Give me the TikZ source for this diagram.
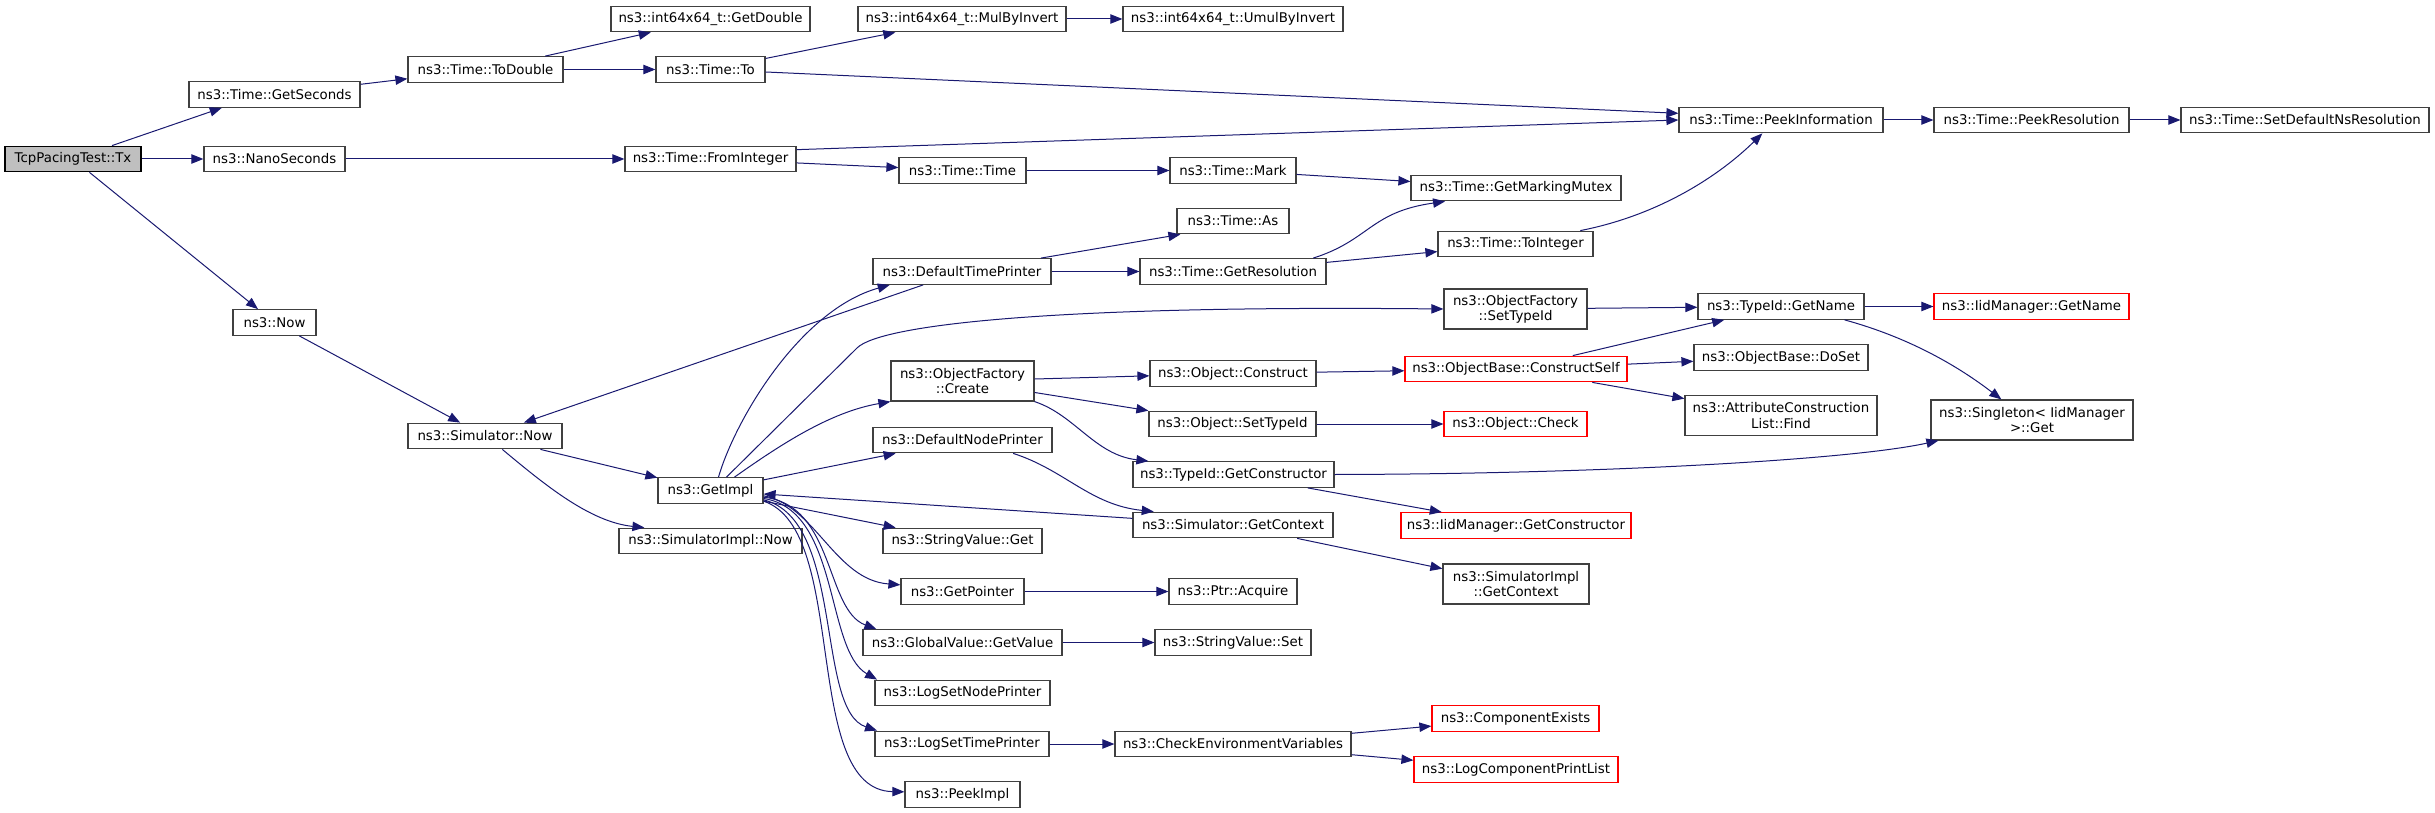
\documentclass[tikz,border=0pt]{standalone}
\usepackage{fontspec}
\setmainfont{DejaVu Sans}
\usetikzlibrary{arrows.meta}
\definecolor{edgec}{HTML}{191970}
\definecolor{boxc}{HTML}{404040}
\definecolor{rootfill}{HTML}{BFBFBF}
\tikzset{
  nd/.style={draw=boxc, line width=0.9pt, fill=white, inner sep=0pt,
    minimum height=19.2pt, align=center,
    font=\fontsize{10}{11.4}\selectfont},
  tall/.style={minimum height=30pt},
  redb/.style={draw=red},
  rootb/.style={draw=black, fill=rootfill},
  wd/.style={minimum width=#1*0.75pt},
  e/.style={draw=edgec, line width=0.75pt, -{Triangle[length=9pt,width=7pt]}}
}
\begin{document}
\begin{tikzpicture}[x=0.75pt,y=-0.75pt]
\useasboundingbox (0,0) rectangle (2435,813);
% column 1
\node[nd, rootb, wd=136] (tx) at (73,159) {TcpPacingTest::Tx};
% column 2
\node[nd, wd=171] (gs) at (274.5,94.5) {ns3::Time::GetSeconds};
\node[nd, wd=141] (nano) at (274.5,159) {ns3::NanoSeconds};
\node[nd, wd=83] (now) at (274.5,322.5) {ns3::Now};
% column 3
\node[nd, wd=155] (todbl) at (485.5,69.5) {ns3::Time::ToDouble};
\node[nd, wd=154] (simnow) at (485,436) {ns3::Simulator::Now};
% column 4
\node[nd, wd=199] (getdbl) at (710.5,19) {ns3::int64x64\_t::GetDouble};
\node[nd, wd=109] (to) at (710.5,69.5) {ns3::Time::To};
\node[nd, wd=171] (fi) at (710.5,159) {ns3::Time::FromInteger};
\node[nd, wd=105] (gi) at (710.5,490.5) {ns3::GetImpl};
\node[nd, wd=183] (sin) at (710.5,541) {ns3::SimulatorImpl::Now};
% column 5
\node[nd, wd=208] (mbi) at (962,19) {ns3::int64x64\_t::MulByInvert};
\node[nd, wd=127] (tt) at (962.5,170.5) {ns3::Time::Time};
\node[nd, wd=178] (dtp) at (962,271.5) {ns3::DefaultTimePrinter};
\node[nd, tall, wd=143] (ofc) at (962.5,381) {ns3::ObjectFactory\\::Create};
\node[nd, wd=179] (dnp) at (962.5,440) {ns3::DefaultNodePrinter};
\node[nd, wd=159] (svg) at (962.5,541) {ns3::StringValue::Get};
\node[nd, wd=123] (gp) at (962.5,591.5) {ns3::GetPointer};
\node[nd, wd=199] (gv) at (962.5,642.5) {ns3::GlobalValue::GetValue};
\node[nd, wd=175] (lsnp) at (962.5,693) {ns3::LogSetNodePrinter};
\node[nd, wd=174] (lstp) at (962,744) {ns3::LogSetTimePrinter};
\node[nd, wd=115] (pk) at (962.5,794.5) {ns3::PeekImpl};
% column 6
\node[nd, wd=220] (umbi) at (1233,19) {ns3::int64x64\_t::UmulByInvert};
\node[nd, wd=126] (mark) at (1233,170.5) {ns3::Time::Mark};
\node[nd, wd=112] (as) at (1233,221) {ns3::Time::As};
\node[nd, wd=186] (gr) at (1233,271.5) {ns3::Time::GetResolution};
\node[nd, wd=166] (oc) at (1233,373.5) {ns3::Object::Construct};
\node[nd, wd=167] (ost) at (1232.5,424) {ns3::Object::SetTypeId};
\node[nd, wd=201] (tgc) at (1233.5,474.5) {ns3::TypeId::GetConstructor};
\node[nd, wd=200] (sgc) at (1233,525) {ns3::Simulator::GetContext};
\node[nd, wd=128] (pa) at (1233,591.5) {ns3::Ptr::Acquire};
\node[nd, wd=156] (svs) at (1233,642.5) {ns3::StringValue::Set};
\node[nd, wd=236] (cev) at (1233,744) {ns3::CheckEnvironmentVariables};
% column 7
\node[nd, wd=210] (gmm) at (1516,188) {ns3::Time::GetMarkingMutex};
\node[nd, wd=155] (ti) at (1515.5,244) {ns3::Time::ToInteger};
\node[nd, tall, wd=143] (osti) at (1515.5,309) {ns3::ObjectFactory\\::SetTypeId};
\node[nd, redb, wd=222] (cs) at (1516,369) {ns3::ObjectBase::ConstructSelf};
\node[nd, redb, wd=143] (chk) at (1515.5,424) {ns3::Object::Check};
\node[nd, redb, wd=230] (igc) at (1516,525.5) {ns3::IidManager::GetConstructor};
\node[nd, tall, wd=146] (sigc) at (1516,584) {ns3::SimulatorImpl\\::GetContext};
\node[nd, redb, wd=167] (ce) at (1515.5,718.5) {ns3::ComponentExists};
\node[nd, redb, wd=204] (lcpl) at (1516,769.5) {ns3::LogComponentPrintList};
% column 8
\node[nd, wd=204] (pi) at (1781,120) {ns3::Time::PeekInformation};
\node[nd, wd=166] (gn) at (1781,306.5) {ns3::TypeId::GetName};
\node[nd, wd=174] (ds) at (1781,357.5) {ns3::ObjectBase::DoSet};
\node[nd, tall, wd=192] (af) at (1781,415.5) {ns3::AttributeConstruction\\List::Find};
% column 9
\node[nd, wd=195] (pr) at (2031.5,120) {ns3::Time::PeekResolution};
\node[nd, redb, wd=195] (ign) at (2031.5,306.5) {ns3::IidManager::GetName};
\node[nd, tall, wd=202] (sg) at (2032,420) {ns3::Singleton< IidManager\\>::Get};
% column 10
\node[nd, wd=248] (sdns) at (2305,120) {ns3::Time::SetDefaultNsResolution};

% edges
\draw[e] (tx) -- ([xshift=25pt]gs.south west);
\draw[e] (tx) -- (nano);
\draw[e] (tx) -- (now);
\draw[e] (gs) -- (todbl);
\draw[e] (nano) -- (fi);
\draw[e] (todbl) -- (getdbl);
\draw[e] (todbl) -- (to);
\draw[e] (to) -- (mbi);
\draw[e] (mbi) -- (umbi);
\draw[e] (to) -- ([yshift=5pt]pi.west);
\draw[e] ([yshift=7pt]fi.east) -- (pi.west);
\draw[e] (fi) -- (tt);
\draw[e] (tt) -- (mark);
\draw[e] (mark) -- (gmm);
\draw[e] (pi) -- (pr);
\draw[e] (pr) -- (sdns);
\draw[e] (now) -- (simnow);
\draw[e] (dtp) -- (simnow);
\draw[e] (dtp) -- ([xshift=3pt]as.south west);
\draw[e] (dtp) -- (gr);
\draw[e] ([xshift=-10pt]gr.north east) .. controls (1370,240) and (1370,212) .. ([xshift=26pt]gmm.south west);
\draw[e] (gr) -- (ti);
\draw[e] ([xshift=-10pt]ti.north east) .. controls (1660,215) and (1720,175) .. ([xshift=-14pt]pi.south);
\draw[e] (simnow) -- (gi);
\draw[e] ([xshift=13pt]simnow.south) .. controls (545,485) and (590,522) .. ([xshift=19.5pt]sin.north west);
\draw[e] ([xshift=6pt]gi.north) .. controls (735,420) and (800,310) .. ([xshift=13pt]dtp.south west);
\draw[e] ([xshift=12pt]gi.north) -- (857,348) .. controls (880,325) and (1050,305) .. (osti.west);
\draw[e] ([xshift=18pt]gi.north) .. controls (780,445) and (830,412) .. (ofc.south west);
\draw[e] (gi) -- (dnp);
\draw[e] (sgc) -- (gi);
\draw[e] ([xshift=38pt]dnp.south) .. controls (1065,470) and (1090,505) .. ([xshift=16pt]sgc.north west);
\draw[e] (gi) -- (svg);
\draw[e] ([yshift=-4pt]gi.east) .. controls (815,505) and (835,580) .. ([yshift=5pt]gp.west);
\draw[e] ([yshift=-5pt]gi.east) .. controls (835,505) and (825,610) .. ([xshift=10.5pt]gv.north west);
\draw[e] ([yshift=-6pt]gi.east) .. controls (840,510) and (825,650) .. ([xshift=2pt]lsnp.north west);
\draw[e] ([yshift=-7pt]gi.east) .. controls (845,520) and (815,710) .. ([xshift=2pt]lstp.north west);
\draw[e] ([yshift=-8pt]gi.east) .. controls (850,530) and (800,790) .. ([yshift=2pt]pk.west);
\draw[e] (ofc) -- (oc);
\draw[e] (ofc) -- (ost);
\draw[e] (ofc.south east) .. controls (1075,415) and (1095,455) .. ([xshift=12pt]tgc.north west);
\draw[e] (osti) -- (gn);
\draw[e] (oc) -- (cs);
\draw[e] (cs) -- (gn);
\draw[e] (cs) -- (ds);
\draw[e] (cs) -- (af);
\draw[e] (ost) -- (chk);
\draw[e] (gn) -- (ign);
\draw[e] ([xshift=-15pt]gn.south east) .. controls (1900,335) and (1950,360) .. ([xshift=-23pt]sg.north);
\draw[e] (tgc.east) .. controls (1600,474) and (1850,460) .. ([xshift=6pt]sg.south west);
\draw[e] (tgc) -- (igc);
\draw[e] (sgc) -- (sigc);
\draw[e] (gp) -- (pa);
\draw[e] (gv) -- (svs);
\draw[e] (lstp) -- (cev);
\draw[e] (cev) -- (ce);
\draw[e] (cev) -- (lcpl);
\end{tikzpicture}
\end{document}
